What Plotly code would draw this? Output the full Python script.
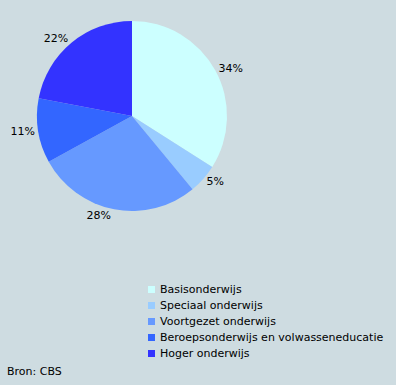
import plotly.graph_objects as go

categories = ["Basisonderwijs", "Speciaal onderwijs", "Voortgezet onderwijs",
              "Beroepsonderwijs en volwasseneducatie", "Hoger onderwijs"]
values = [34, 5, 28, 11, 22]
colors = ["#CCFFFF", "#99CCFF", "#6699FF", "#3366FF", "#3333FF"]

W, H = 396, 385
cx, cy, r = 132, 116, 95

fig = go.Figure(go.Pie(
    labels=categories,
    values=values,
    sort=False,
    direction="clockwise",
    rotation=0,
    marker=dict(colors=colors, line=dict(width=0)),
    textposition="outside",
    texttemplate="%{value}%",
    textfont=dict(family="DejaVu Sans", size=11, color="#000000"),
    domain=dict(x=[(cx - r) / W, (cx + r) / W], y=[(H - cy - r) / H, (H - cy + r) / H]),
    hoverinfo="label+percent",
    showlegend=False,
))

# manual legend (small squares + labels)
row0, step = 289.5, 16
for i, (name, col) in enumerate(zip(categories, colors)):
    yc = row0 + i * step
    fig.add_shape(type="rect", xref="paper", yref="paper",
                  x0=148 / W, x1=155 / W, y0=(H - yc - 3.5) / H, y1=(H - yc + 3.5) / H,
                  fillcolor=col, line=dict(width=0))
    fig.add_annotation(text=name, x=158 / W, y=(H - yc) / H, xref="paper", yref="paper",
                       xanchor="left", yanchor="middle", showarrow=False,
                       font=dict(family="DejaVu Sans", size=11, color="#000000"))

fig.add_annotation(text="Bron: CBS", x=5 / W, y=(H - 371) / H, xref="paper", yref="paper",
                   xanchor="left", yanchor="middle", showarrow=False,
                   font=dict(family="DejaVu Sans", size=11, color="#000000"))

fig.update_layout(
    width=W, height=H,
    margin=dict(l=0, r=0, t=0, b=0),
    paper_bgcolor="#CEDCE1",
    plot_bgcolor="#CEDCE1",
    font=dict(family="DejaVu Sans", size=11, color="#000000"),
    showlegend=False,
)

fig.write_html("out.html")
